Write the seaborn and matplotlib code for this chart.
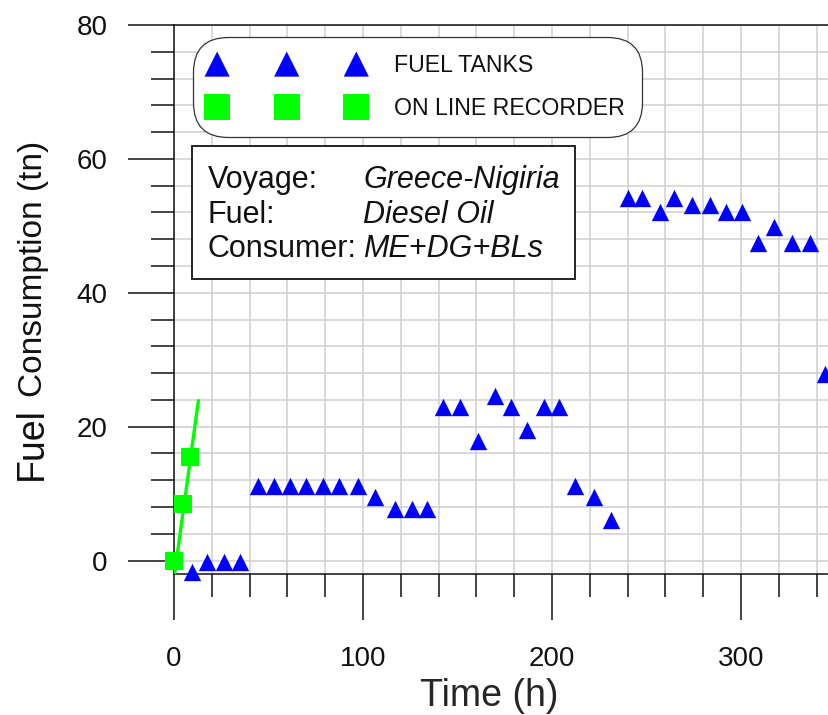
import matplotlib
matplotlib.use("Agg")
import matplotlib.pyplot as plt
from matplotlib.ticker import MultipleLocator, FixedLocator
from matplotlib.patches import Rectangle
import seaborn as sns

# Fuel remaining in tanks, read at successive soundings (hours from departure)
tank_hours = [9.4, 17.7, 26.5, 35.0, 44.2, 52.7, 61.5, 69.9, 78.7, 87.5, 97.5,
              106.6, 116.9, 125.7, 133.8, 142.5, 151.4, 160.6, 169.9, 178.4,
              186.7, 195.6, 203.9, 212.4, 222.4, 231.3, 240.2, 247.7, 256.9,
              264.6, 274.1, 283.6, 291.8, 300.6, 309.1, 317.6, 327.1, 336.5,
              344.5]
tank_fuel = [-1.7, -0.2, -0.2, -0.2, 11.1, 11.1, 11.1, 11.1, 11.1, 11.1, 11.1,
             9.5, 7.7, 7.7, 7.7, 22.9, 22.9, 17.9, 24.6, 22.9,
             19.5, 22.9, 22.9, 11.1, 9.5, 6.1, 54.1, 54.1, 52.0,
             54.1, 53.1, 53.1, 52.0, 52.0, 47.4, 49.9, 47.4, 47.4,
             27.9]

# On-line flow recorder readings and its consumption trend
recorder_hours = [0.0, 4.6, 8.5]
recorder_fuel = [0.0, 8.4, 15.5]
trend_hours = [0.3, 12.9]
trend_fuel = [-2.0, 23.9]

x_major_ticks = [0, 100, 200, 300]
y_major_ticks = [0, 20, 40, 60, 80]
series_labels = ["FUEL TANKS", "ON LINE RECORDER"]
info_keys = ["Voyage:", "Fuel:", "Consumer:"]
info_values = ["Greece-Nigiria", "Diesel Oil", "ME+DG+BLs"]

W, H = 829, 715
BLUE = "#0000ff"
GREEN = "#00ff00"

sns.set_style("ticks")
plt.rcParams["font.family"] = ["Liberation Sans", "DejaVu Sans"]
plt.rcParams["text.color"] = "#111111"


def fx(px):
    return px / W


def fy(py):
    return 1 - py / H


fig = plt.figure(figsize=(W / 100, H / 100), dpi=100)
fig.patch.set_facecolor("white")

px_per_hour = 1.89
x_max = 400
ax_left, ax_top, ax_bottom = 174, 25, 574
ax = fig.add_axes([fx(ax_left), fy(ax_bottom),
                   x_max * px_per_hour / W, (ax_bottom - ax_top) / H])
ax.set_facecolor("white")

sns.lineplot(x=trend_hours, y=trend_fuel, color=GREEN, linewidth=2.4,
             ax=ax, zorder=4, legend=False)
sns.scatterplot(x=tank_hours, y=tank_fuel, marker="^", s=12.5 ** 2,
                color=BLUE, linewidth=0, clip_on=False, zorder=6,
                label=series_labels[0], ax=ax)
sns.scatterplot(x=recorder_hours, y=recorder_fuel, marker="s", s=13 ** 2,
                color=GREEN, linewidth=0, clip_on=False, zorder=6,
                label=series_labels[1], ax=ax)

ax.set_xlim(0, x_max)
ax.set_ylim(-2, 80)
ax.xaxis.set_major_locator(FixedLocator(x_major_ticks))
ax.xaxis.set_minor_locator(MultipleLocator(20))
ax.yaxis.set_major_locator(FixedLocator(y_major_ticks))
ax.yaxis.set_minor_locator(MultipleLocator(4))

ax.grid(True, which="both", color="#cfcfcf", linewidth=1.1)
ax.set_axisbelow(True)
for side in ["left", "bottom", "top", "right"]:
    ax.spines[side].set_visible(True)
    ax.spines[side].set_color("#111111")
    ax.spines[side].set_linewidth(1.1)

ax.tick_params(which="major", direction="out", length=32.8, width=1.1,
               color="#111111", labelsize=20, labelcolor="#111111")
ax.tick_params(axis="x", which="major", pad=19)
ax.tick_params(axis="y", which="major", pad=15)
ax.tick_params(which="minor", direction="out", length=16.6, width=1.1,
               color="#111111")
ax.tick_params(top=False, right=False, which="both")

# Axis titles
ax.set_xlabel("Time (h)", fontsize=27)
ax.xaxis.label.set_verticalalignment("baseline")
ax.xaxis.set_label_coords(fx(489), fy(706), transform=fig.transFigure)
ax.set_ylabel("")
fig.text(fx(41.7), fy(480), "Fuel", rotation=90, rotation_mode="anchor",
         ha="left", va="baseline", fontsize=27)
fig.text(fx(41.7), fy(397), "Consumption (tn)", rotation=90,
         rotation_mode="anchor", ha="left", va="baseline", fontsize=24)

# Legend in a rounded frame with three markers per entry
legend_fs = 16.7
handles, labels = ax.get_legend_handles_labels()
leg = ax.legend(handles, labels, loc="upper left",
                bbox_to_anchor=(fx(193), fy(37)),
                bbox_transform=fig.transFigure, borderaxespad=0,
                scatterpoints=3, scatteryoffsets=[0.5], markerscale=1.45,
                fontsize=legend_fs, handlelength=6.6, handletextpad=1.33,
                labelspacing=0.86, borderpad=0.74, frameon=True,
                fancybox=True, framealpha=1)
frame = leg.get_frame()
frame.set_boxstyle("round", pad=0, rounding_size=1.5)
frame.set_edgecolor("#333333")
frame.set_linewidth(0.9)
frame.set_facecolor("white")
leg.set_zorder(8)

# Voyage information box
box_l, box_t, box_r, box_b = 191.7, 146, 575.5, 278.5
ax.add_patch(Rectangle((fx(box_l), fy(box_b)), fx(box_r) - fx(box_l),
                       fy(box_t) - fy(box_b), transform=fig.transFigure,
                       facecolor="white", edgecolor="#111111", linewidth=1.3,
                       clip_on=False, zorder=8))
baselines = [188.3, 222.7, 256.7]
for key, val, base in zip(info_keys, info_values, baselines):
    ax.text(fx(207.7), fy(base), key, transform=fig.transFigure,
            ha="left", va="baseline", fontsize=22, zorder=9)
    ax.text(fx(363.5), fy(base), val, transform=fig.transFigure,
            ha="left", va="baseline", fontsize=22, fontstyle="italic",
            zorder=9)

fig.savefig("out.png", dpi=100, facecolor="white")
